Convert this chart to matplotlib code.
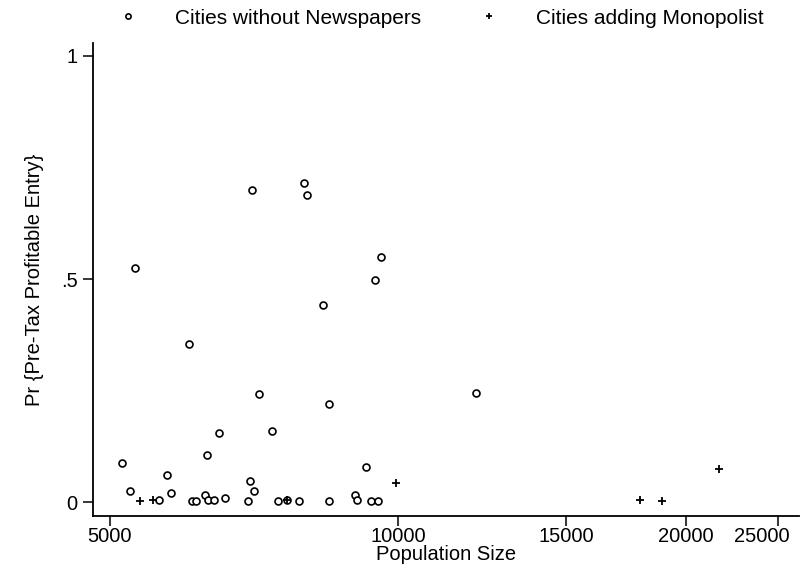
import matplotlib
matplotlib.use("Agg")
import matplotlib.pyplot as plt
import matplotlib.transforms as mtransforms
from matplotlib.ticker import FixedLocator, NullLocator

plt.rcParams['font.family'] = ['Liberation Sans', 'DejaVu Sans']

# cities without newspapers: population and probability of profitable entry
pop_none = [5150, 5250, 5310, 5625, 5735, 5787, 6043, 6085, 6157, 6280,
            6312, 6326, 6426, 6500, 6590, 6976, 7000, 7047, 7069, 7151,
            7386, 7497, 7650, 7891, 7969, 8043, 8357, 8480, 8480, 9020,
            9060, 9271, 9383, 9474, 9542, 9611, 12080]
prob_none = [0.088, 0.025, 0.525, 0.004, 0.060, 0.020, 0.354, 0.003, 0.003, 0.015,
             0.106, 0.004, 0.004, 0.154, 0.010, 0.003, 0.048, 0.700, 0.025, 0.242,
             0.159, 0.003, 0.004, 0.003, 0.715, 0.688, 0.442, 0.220, 0.003, 0.017,
             0.004, 0.078, 0.003, 0.498, 0.003, 0.549, 0.245]

# cities adding a monopolist paper
pop_mono = [5375, 5550, 7650, 9964, 17910, 18890, 21660]
prob_mono = [0.003, 0.004, 0.005, 0.044, 0.005, 0.003, 0.075]

x_ticks = [5000, 10000, 15000, 20000, 25000]
y_ticks = [0, 0.5, 1]
y_tick_labels = ['0', '.5', '1']

fig = plt.figure(figsize=(8.01, 5.68), dpi=100)
ax = fig.add_axes([0.1161, 0.0915, 0.882, 0.833])

ax.plot(pop_none, prob_none, linestyle='none', marker='o', markersize=5,
        markerfacecolor='white', markeredgecolor='black', markeredgewidth=1.2,
        label='Cities without Newspapers')
ax.plot(pop_mono, prob_mono, linestyle='none', marker='+', markersize=6,
        color='black', markeredgewidth=1.3, label='Cities adding Monopolist')

ax.set_xscale('log')
ax.set_xlim(4800, 26300)
ax.set_ylim(-0.031, 1.029)
ax.xaxis.set_major_locator(FixedLocator(x_ticks))
ax.xaxis.set_minor_locator(NullLocator())
ax.set_xticks(x_ticks)
ax.set_xticklabels([str(v) for v in x_ticks])
ax.set_yticks(y_ticks)
ax.set_yticklabels(y_tick_labels)

for s in ['top', 'right']:
    ax.spines[s].set_visible(False)
for s in ['left', 'bottom']:
    ax.spines[s].set_linewidth(1.3)
ax.tick_params(axis='both', length=7, width=1.1, labelsize=14.5)
ax.tick_params(axis='x', pad=1)
ax.tick_params(axis='y', pad=4)

# last tick label sits a bit left of its tick so it fits the page
last = ax.get_xticklabels()[-1]
last.set_transform(last.get_transform() +
                   mtransforms.ScaledTranslation(-17 / 100, 0, fig.dpi_scale_trans))

ax.set_xlabel('Population Size', fontsize=14.5)
ax.xaxis.set_label_coords(0.5, -0.062)
ax.set_ylabel('Pr {Pre-Tax Profitable Entry}', fontsize=14.5)
ax.yaxis.set_label_coords(-0.069, 0.5)

fig.legend(loc='center left', bbox_to_anchor=(0.136, 0.968), ncol=2, frameon=False,
           fontsize=15, handletextpad=1.78, columnspacing=2.74, handlelength=1.0,
           markerscale=0.75, borderaxespad=0)

fig.savefig('out.png', dpi=100)
